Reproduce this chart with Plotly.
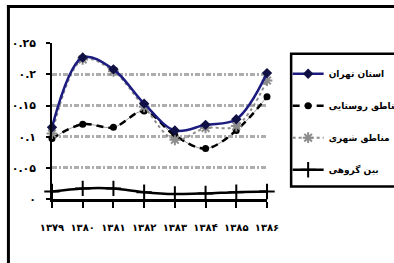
import plotly.graph_objects as go

# ---- data ----
years = ["۱۳۷۹", "۱۳۸۰", "۱۳۸۱", "۱۳۸۲", "۱۳۸۳", "۱۳۸۴", "۱۳۸۵", "۱۳۸۶"]
tehran = [0.115, 0.227, 0.208, 0.153, 0.110, 0.119, 0.128, 0.202]
rural = [0.097, 0.120, 0.115, 0.141, 0.102, 0.081, 0.110, 0.164]
urban = [0.105, 0.224, 0.205, 0.148, 0.095, 0.114, 0.117, 0.190]
between = [0.012, 0.017, 0.017, 0.011, 0.008, 0.009, 0.011, 0.012]
series_names = ["استان تهران", "مناطق روستایی", "مناطق شهری", "بین گروهی"]
ytick_vals = [0, 0.05, 0.1, 0.15, 0.2, 0.25]
ytick_text = ["۰", "۰.۰۵", "۰.۱", "۰.۱۵", "۰.۲", "۰.۲۵"]

W, H = 394, 263
L, R, T, B = 51.7, 126.7, 42.7, 63.5
PW, PH = W - L - R, H - T - B


def px(x):
    return (x - L) / PW


def py(y):
    return (H - B - y) / PH


xs = list(range(len(years)))
FONT = "DejaVu Sans"

fig = go.Figure()
# thin grey under-line for rural series
fig.add_trace(go.Scatter(x=xs, y=rural, mode="lines", line=dict(color="#9a9a9a", width=1, shape="spline"),
                         showlegend=False, hoverinfo="skip", cliponaxis=False))
fig.add_trace(go.Scatter(x=xs, y=rural, name=series_names[1], legendgroup="b", legendrank=2,
                         mode="lines+markers", line=dict(color="black", width=2.5, dash="7px,5px", shape="spline"),
                         marker=dict(symbol="circle", size=7, color="black"), cliponaxis=False))
fig.add_trace(go.Scatter(x=xs, y=urban, name=series_names[2], legendgroup="c", legendrank=3,
                         mode="lines+markers", line=dict(color="#8c8c8c", width=2, dash="dot", shape="spline"),
                         marker=dict(symbol="asterisk-open", size=9, line=dict(color="black", width=2)),
                         cliponaxis=False))
fig.add_trace(go.Scatter(x=xs, y=tehran, name=series_names[0], legendgroup="a", legendrank=1,
                         mode="lines+markers", line=dict(color="#1c1c80", width=2.5, shape="spline"),
                         marker=dict(symbol="diamond", size=8, color="#101045"), cliponaxis=False))
fig.add_trace(go.Scatter(x=xs, y=between, name=series_names[3], legendgroup="d", legendrank=4,
                         mode="lines+markers", line=dict(color="black", width=2.5, shape="spline"),
                         marker=dict(symbol="cross-thin-open", size=11, line=dict(color="black", width=2)),
                         cliponaxis=False))

shapes = [
    # outer frame (left and top)
    dict(type="line", xref="paper", yref="paper", x0=px(8), x1=px(8), y0=py(5), y1=py(270),
         line=dict(color="black", width=3)),
    dict(type="line", xref="paper", yref="paper", x0=px(6.5), x1=px(400), y0=py(6), y1=py(6),
         line=dict(color="black", width=3)),
    # legend box
    dict(type="rect", xref="paper", yref="paper", x0=px(291.5), x1=px(400), y0=py(53.5), y1=py(187),
         line=dict(color="black", width=2.5), fillcolor="rgba(0,0,0,0)"),
]

fig.update_layout(
    width=W, height=H,
    margin=dict(l=L, r=R, t=T, b=B, autoexpand=False),
    paper_bgcolor="white", plot_bgcolor="white",
    font=dict(family=FONT, color="black"),
    showlegend=True,
    legend=dict(x=px(288), y=py(59), xanchor="left", yanchor="top",
                bgcolor="rgba(0,0,0,0)", borderwidth=0, itemwidth=31,
                traceorder="grouped", tracegroupgap=13,
                font=dict(family=FONT, size=9, weight="bold", color="black")),
    shapes=shapes,
    xaxis=dict(range=[0, 7], tickvals=xs, ticktext=years, showgrid=False, zeroline=False,
               showline=True, linecolor="black", linewidth=2.5,
               ticks="outside", ticklen=6, tickwidth=1.5, tickcolor="black",
               ticklabelstandoff=11,
               tickfont=dict(family=FONT, size=10, weight="bold", color="black")),
    yaxis=dict(range=[0, 0.2503], tickvals=ytick_vals, ticktext=ytick_text, showgrid=True,
               gridcolor="#adadad", gridwidth=2.5, griddash="5px,2px,2px,2px", zeroline=False,
               showline=True, linecolor="black", linewidth=1.5,
               ticks="outside", ticklen=4, tickwidth=1.5, tickcolor="black",
               ticklabelstandoff=8,
               tickfont=dict(family=FONT, size=11, weight="bold", color="black")),
)

fig.write_html("out.html", config={"displayModeBar": False},
               post_script="document.body.style.margin='0';")
